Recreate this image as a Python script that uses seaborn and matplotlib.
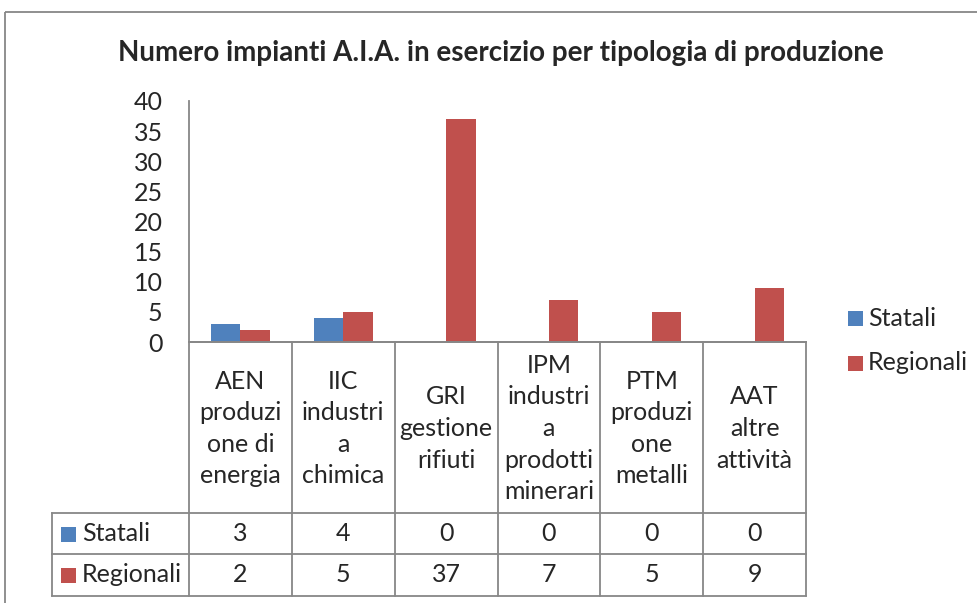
import matplotlib
matplotlib.use("Agg")
import matplotlib.pyplot as plt
import seaborn as sns
import pandas as pd
from matplotlib.patches import Rectangle

# ---------------- data ----------------
codes = ["AEN", "IIC", "GRI", "IPM", "PTM", "AAT"]
header_labels = [
    "AEN\nproduzi\none di\nenergia",
    "IIC\nindustri\na\nchimica",
    "GRI\ngestione\nrifiuti",
    "IPM\nindustri\na\nprodotti\nminerari",
    "PTM\nproduzi\none\nmetalli",
    "AAT\naltre\nattività",
]
statali = [3, 4, 0, 0, 0, 0]
regionali = [2, 5, 37, 7, 5, 9]
series_names = ["Statali", "Regionali"]
series_colors = ["#4F81BD", "#C0504D"]
yticks = [0, 5, 10, 15, 20, 25, 30, 35, 40]
title = "Numero impianti A.I.A. in esercizio per tipologia di produzione"

# ---------------- style ----------------
sns.set_style("white")
plt.rcParams["font.family"] = ["Lato", "DejaVu Sans"]
FS = 18
GRID = "#878787"

W, H = 977, 603
fig = plt.figure(figsize=(W / 100, H / 100), dpi=100)


def fx(px):
    return px / W


def fy(py):
    return 1 - py / H


# plot area in pixels
L, R, T, B = 189, 806, 101, 342
ax = fig.add_axes([fx(L), fy(B), fx(R) - fx(L), fy(T) - fy(B)])

df = pd.DataFrame({
    "cat": codes * 2,
    "series": [series_names[0]] * len(codes) + [series_names[1]] * len(codes),
    "value": statali + regionali,
})
sns.barplot(data=df, x="cat", y="value", hue="series", order=codes,
            hue_order=series_names, palette=series_colors, saturation=1,
            width=0.575, linewidth=0, ax=ax, legend=False)

ax.set_xlim(-0.5, len(codes) - 0.5)
ax.set_ylim(0, 40)
ax.set_yticks(yticks)
ax.set_yticklabels([str(v) for v in yticks], fontsize=FS)
ax.tick_params(axis="y", length=0, pad=19)
ax.set_xticks([])
ax.set_xlabel("")
ax.set_ylabel("")
for s in ["top", "right"]:
    ax.spines[s].set_visible(False)
for s in ["left", "bottom"]:
    ax.spines[s].set_color(GRID)
    ax.spines[s].set_linewidth(1.3)

# ---------------- overlay (table, legend, title, frame) ----------------
ov = fig.add_axes([0, 0, 1, 1])
ov.set_xlim(0, W)
ov.set_ylim(H, 0)
ov.axis("off")

# chart frame
ov.add_patch(Rectangle((5, 12), W + 20, H + 20, fill=False, edgecolor=GRID, lw=1.3))

ov.text(501, 53, title, ha="center", va="center", fontsize=20, fontweight="bold")

n = len(codes)
colw = (R - L) / n
edges = [L + i * colw for i in range(n + 1)]
LBL = 52
rows = [B, 513, 554, 596]
lw = 1.3

# horizontal table lines
for i, y in enumerate(rows):
    x0 = L if i == 0 else LBL
    ov.plot([x0, R], [y, y], color=GRID, lw=lw, solid_capstyle="projecting")
# vertical lines
for x in edges:
    ov.plot([x, x], [B, rows[-1]], color=GRID, lw=lw)
ov.plot([LBL, LBL], [rows[1], rows[-1]], color=GRID, lw=lw)

# header labels
for i, lab in enumerate(header_labels):
    cx = (edges[i] + edges[i + 1]) / 2
    ov.text(cx, (rows[0] + rows[1]) / 2 + 1, lab, ha="center", va="center",
            fontsize=FS, linespacing=1.45, multialignment="center")

# value rows
for r, (name, color, vals) in enumerate(zip(series_names, series_colors, [statali, regionali])):
    cy = (rows[r + 1] + rows[r + 2]) / 2
    ov.add_patch(Rectangle((61, cy - 7), 15, 15, color=color, lw=0))
    ov.text(82, cy, name, ha="left", va="center", fontsize=FS)
    for i, v in enumerate(vals):
        cx = (edges[i] + edges[i + 1]) / 2
        ov.text(cx, cy, str(v), ha="center", va="center", fontsize=FS)

# legend
for k, (name, color) in enumerate(zip(series_names, series_colors)):
    cy = 318 + k * 45
    ov.add_patch(Rectangle((848, cy - 7), 15, 15, color=color, lw=0))
    ov.text(868, cy, name, ha="left", va="center", fontsize=FS)

fig.savefig("out.png", dpi=100)
